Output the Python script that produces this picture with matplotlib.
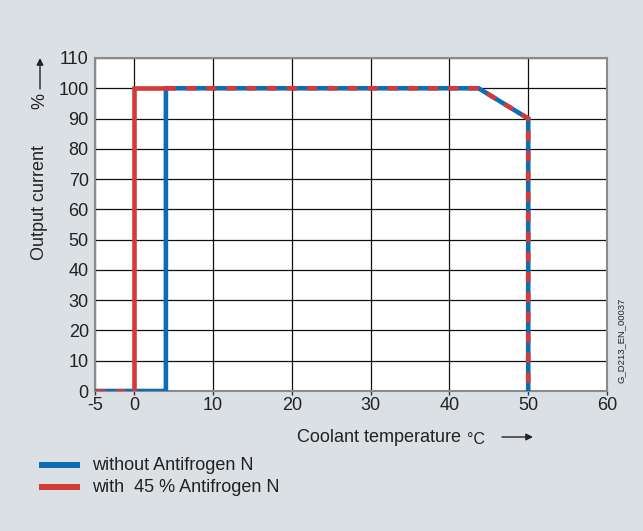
import matplotlib.pyplot as plt
from matplotlib.lines import Line2D

plt.rcParams['font.family'] = ['Liberation Sans', 'DejaVu Sans']

# Kurven (Temperatur in °C, Ausgangsstrom in %)
temp_without = [-5, 4, 4, 43.7, 50, 50]
curr_without = [0, 0, 100, 100, 90, 0]

temp_with_solid = [0, 0, 4]
curr_with_solid = [0, 100, 100]
temp_with_low = [-5, 0]
curr_with_low = [0, 0]
temp_with_common = [4, 43.7, 50, 50]
curr_with_common = [100, 100, 90, 0]

x_ticks = [-5, 0, 10, 20, 30, 40, 50, 60]
y_ticks = [0, 10, 20, 30, 40, 50, 60, 70, 80, 90, 100, 110]

labels = ["without Antifrogen N", "with  45 % Antifrogen N"]

blue = '#0a6db5'
red = '#d43a3a'
bg = '#dbe0e4'
txt = '#222222'
fs = 13

fig = plt.figure(figsize=(6.43, 5.31), dpi=100)
fig.patch.set_facecolor(bg)
ax = fig.add_axes([95 / 643, 1 - 391 / 531, 512 / 643, 333 / 531])
ax.set_facecolor('white')

lw = 3.3
ax.plot(temp_without, curr_without, color=blue, lw=lw, solid_joinstyle='miter', zorder=3)
ax.plot(temp_with_solid, curr_with_solid, color=red, lw=lw, solid_joinstyle='miter', zorder=4)
ax.plot(temp_with_low, curr_with_low, color=red, lw=lw, dashes=(2.2, 2.2), zorder=4)
ax.plot(temp_with_common, curr_with_common, color=red, lw=lw, dashes=(2.2, 2.2),
        dash_joinstyle='miter', zorder=4)

ax.set_xlim(-5, 60)
ax.set_ylim(0, 110)
ax.set_xticks(x_ticks)
ax.set_yticks(y_ticks)
ax.set_xticklabels([str(v) for v in x_ticks])
ax.set_yticklabels([str(v) for v in y_ticks])
ax.tick_params(axis='x', length=3, width=1, color='#333333', labelsize=fs, labelcolor=txt, pad=1.5)
ax.tick_params(axis='y', length=0, labelsize=fs, labelcolor=txt, pad=4.5)
ax.grid(True, color='#111111', lw=0.9, zorder=1)
for s in ax.spines.values():
    s.set_color('#8a8a8a')
    s.set_linewidth(1.5)
    s.set_zorder(2)

# Achsentitel
fig.text(297 / 643, 1 - 437 / 531, "Coolant temperature", fontsize=fs, color=txt,
         ha='left', va='center')
fig.text(467 / 643, 1 - 439 / 531, "°C", fontsize=11.5, color=txt, ha='left', va='center')
fig.add_artist(plt.Annotation('', xy=(533 / 643, 1 - 437 / 531), xytext=(502 / 643, 1 - 437 / 531),
                              xycoords='figure fraction',
                              arrowprops=dict(arrowstyle='-|>', color=txt, lw=1,
                                              mutation_scale=10, shrinkA=0, shrinkB=0)))

fig.text(40 / 643, 1 - 203 / 531, "Output current", fontsize=fs, color=txt,
         rotation=90, ha='center', va='center')
fig.text(40 / 643, 1 - 101 / 531, "%", fontsize=fs, color=txt,
         rotation=90, ha='center', va='center')
fig.add_artist(plt.Annotation('', xy=(40 / 643, 1 - 58 / 531), xytext=(40 / 643, 1 - 89 / 531),
                              xycoords='figure fraction',
                              arrowprops=dict(arrowstyle='-|>', color=txt, lw=1,
                                              mutation_scale=10, shrinkA=0, shrinkB=0)))

fig.text(621 / 643, 1 - 340 / 531, "G_D213_EN_00037", fontsize=6.8, color=txt,
         rotation=90, ha='center', va='center')

# Legende
for i, (lab, col) in enumerate(zip(labels, [blue, red])):
    y = 1 - (465 + 22 * i) / 531
    fig.add_artist(Line2D([39 / 643, 80 / 643], [y, y], color=col, lw=4.3,
                          solid_capstyle='butt'))
    fig.text(92 / 643, y, lab, fontsize=fs, color=txt, ha='left', va='center')

fig.savefig('out.png', dpi=100, facecolor=bg)
